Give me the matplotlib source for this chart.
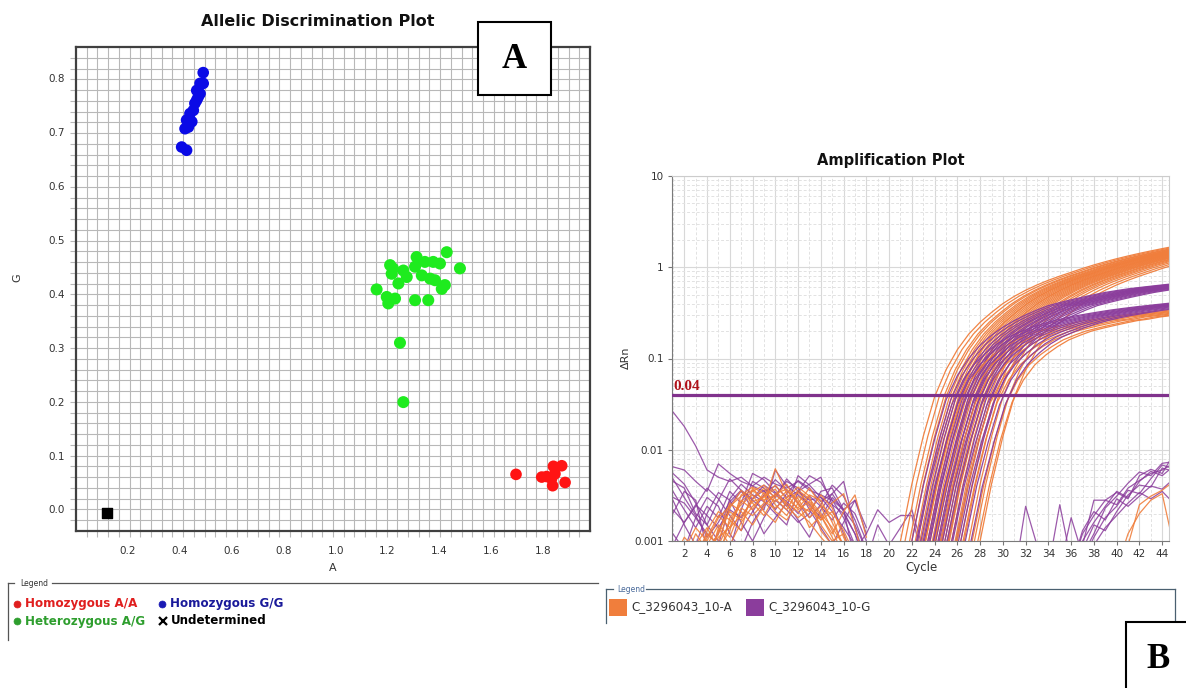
import matplotlib.pyplot as plt
import numpy as np
from matplotlib.patches import Rectangle
from matplotlib.lines import Line2D
from matplotlib.ticker import FixedLocator, NullFormatter

W, H = 1186, 688


def fx(px):
    return px / W


def fy(py):
    return 1 - py / H


# ---- allelic discrimination data (A allele vs G allele signal) ----
aa_x = [1.695, 1.794, 1.813, 1.839, 1.871, 1.832, 1.836, 1.884, 1.845]
aa_y = [0.065, 0.060, 0.061, 0.080, 0.081, 0.057, 0.044, 0.050, 0.066]

gg_x = [0.490, 0.478, 0.465, 0.471, 0.458, 0.452, 0.439, 0.426, 0.433, 0.420,
        0.407, 0.426, 0.490, 0.446, 0.465, 0.478]
gg_y = [0.810, 0.790, 0.777, 0.765, 0.753, 0.740, 0.734, 0.722, 0.709, 0.706,
        0.672, 0.666, 0.790, 0.719, 0.759, 0.771]

ag_x = [1.428, 1.479, 1.158, 1.210, 1.216, 1.203, 1.229, 1.242, 1.261, 1.306,
        1.312, 1.306, 1.357, 1.364, 1.376, 1.409, 1.421, 1.402, 1.274, 1.332,
        1.221, 1.197, 1.344, 1.383, 1.248, 1.261]
ag_y = [0.477, 0.447, 0.408, 0.453, 0.437, 0.382, 0.391, 0.419, 0.443, 0.450,
        0.468, 0.388, 0.388, 0.428, 0.459, 0.409, 0.416, 0.456, 0.431, 0.434,
        0.447, 0.394, 0.459, 0.425, 0.309, 0.199]

und_x = [0.118]
und_y = [-0.006]

# ---- amplification data (delta Rn per cycle) ----
# curve shapes start one cycle before the 0.001 crossing
shape_a_high = [0.0003, 0.001, 0.0042, 0.014, 0.038, 0.075, 0.125, 0.185, 0.25,
                0.32, 0.40, 0.48, 0.56, 0.64, 0.72, 0.80, 0.88, 0.97, 1.06,
                1.15, 1.24, 1.33, 1.42, 1.51, 1.60, 1.69, 1.78]
shape_a_low = [0.0003, 0.001, 0.004, 0.013, 0.033, 0.058, 0.085, 0.11, 0.135,
               0.16, 0.18, 0.20, 0.215, 0.23, 0.245, 0.26, 0.27, 0.285, 0.295,
               0.305, 0.315, 0.325, 0.335, 0.345, 0.355, 0.365, 0.375]
shape_g_high = [0.0003, 0.001, 0.004, 0.013, 0.035, 0.065, 0.10, 0.14, 0.18,
                0.22, 0.26, 0.30, 0.34, 0.38, 0.41, 0.44, 0.47, 0.50, 0.53,
                0.555, 0.58, 0.60, 0.62, 0.64, 0.66, 0.68, 0.70]
shape_g_low = [0.0003, 0.001, 0.004, 0.012, 0.031, 0.058, 0.087, 0.115, 0.145,
               0.172, 0.195, 0.218, 0.24, 0.26, 0.278, 0.295, 0.31, 0.325,
               0.34, 0.353, 0.366, 0.378, 0.39, 0.402, 0.414, 0.426, 0.438]

# cycle at which each well passes 0.001
start_a_high = [21.0, 21.4, 21.8, 22.0, 22.3, 22.5, 22.7, 22.9, 23.1, 23.2,
                23.4, 23.6, 23.8, 24.0, 24.1, 24.3, 24.5, 24.7, 24.9, 25.1,
                25.3, 25.5, 25.8, 26.0, 26.3, 26.6, 27.0, 27.5, 28.0]
start_a_low = [23.2, 24.0, 24.6, 25.2, 25.9, 26.5, 27.3, 27.8]
start_g_high = [22.0, 22.4, 22.8, 23.1, 23.4, 23.6, 23.9, 24.1, 24.4, 24.6,
                24.9, 25.2, 25.5, 25.9, 26.3]
start_g_low = [22.5, 23.0, 23.5, 23.9, 24.3, 24.7, 25.1, 25.6, 26.1, 26.7, 27.2]

# baseline noise, cycles 1-18
noise_g_early = [
    [0.026, 0.018, 0.011, 0.006, 0.005, 0.0045, 0.005, 0.004, 0.0035, 0.004, 0.003, 0.0035, 0.0028, 0.003, 0.0025, 0.002, 0.0012, 0.0006],
    [0.0065, 0.006, 0.0045, 0.0035, 0.007, 0.0055, 0.0045, 0.004, 0.005, 0.0042, 0.0038, 0.0045, 0.0036, 0.0032, 0.0028, 0.0022, 0.0015, 0.0008],
    [0.003, 0.0026, 0.0018, 0.0012, 0.0009, 0.0025, 0.0035, 0.0028, 0.0022, 0.006, 0.004, 0.0032, 0.0025, 0.0018, 0.003, 0.0022, 0.0006, 0.0004],
    [0.0055, 0.0042, 0.0026, 0.0015, 0.001, 0.0008, 0.0022, 0.0045, 0.0038, 0.003, 0.0048, 0.0035, 0.0042, 0.005, 0.0025, 0.0012, 0.0006, 0.0003],
    [0.0028, 0.0015, 0.0009, 0.002, 0.0034, 0.0028, 0.0016, 0.001, 0.0018, 0.0028, 0.0022, 0.0016, 0.002, 0.0035, 0.0038, 0.0022, 0.0028, 0.0014],
    [0.002, 0.0035, 0.0028, 0.0008, 0.0012, 0.0029, 0.0042, 0.0032, 0.0027, 0.002, 0.0015, 0.0035, 0.0052, 0.0044, 0.0028, 0.0018, 0.0009, 0.0005],
    [0.0012, 0.0008, 0.0018, 0.003, 0.0024, 0.0012, 0.0008, 0.0016, 0.0025, 0.0032, 0.0045, 0.0038, 0.0022, 0.0014, 0.0009, 0.0016, 0.0028, 0.0012],
    [0.0045, 0.0038, 0.002, 0.0015, 0.0028, 0.0048, 0.0036, 0.0022, 0.0012, 0.0018, 0.0026, 0.0017, 0.0011, 0.0022, 0.0033, 0.0045, 0.0014, 0.0006],
    [0.0009, 0.0016, 0.0025, 0.0019, 0.0014, 0.0022, 0.0018, 0.0029, 0.0041, 0.0033, 0.0024, 0.0052, 0.0041, 0.003, 0.0021, 0.0014, 0.0009, 0.0005],
    [0.0035, 0.0022, 0.0014, 0.0024, 0.0018, 0.0035, 0.0026, 0.0055, 0.0047, 0.0034, 0.0027, 0.002, 0.0031, 0.0024, 0.0017, 0.0026, 0.002, 0.001],
    [0.0048, 0.003, 0.0019, 0.0011, 0.0016, 0.0027, 0.0036, 0.0029, 0.0036, 0.0022, 0.0033, 0.0046, 0.0038, 0.0027, 0.0033, 0.0021, 0.0012, 0.0005],
    [0.0022, 0.0016, 0.0024, 0.0038, 0.0029, 0.0019, 0.0013, 0.0021, 0.0032, 0.0047, 0.0036, 0.0026, 0.0018, 0.0025, 0.0041, 0.0031, 0.0017, 0.0008],
]
noise_a_early = [
    [0.0005, 0.0008, 0.0014, 0.001, 0.0018, 0.0024, 0.0031, 0.0036, 0.0028, 0.0032, 0.0026, 0.0021, 0.0016, 0.0011, 0.0008, 0.0005, 0.0004, 0.0004],
    [0.0004, 0.0005, 0.0007, 0.0012, 0.0009, 0.0016, 0.0028, 0.0022, 0.0034, 0.0027, 0.0035, 0.0029, 0.0018, 0.0024, 0.0013, 0.0007, 0.0004, 0.0004],
    [0.0006, 0.0011, 0.0008, 0.0006, 0.0013, 0.0021, 0.0017, 0.0029, 0.0038, 0.0025, 0.0019, 0.0031, 0.0024, 0.0015, 0.001, 0.0012, 0.0005, 0.0004],
    [0.0004, 0.0004, 0.0006, 0.0009, 0.0015, 0.0011, 0.0023, 0.0019, 0.0026, 0.0062, 0.0033, 0.0022, 0.0027, 0.0019, 0.0011, 0.0006, 0.0004, 0.0004],
    [0.0005, 0.0004, 0.0005, 0.0008, 0.0006, 0.0018, 0.0025, 0.0032, 0.0021, 0.0016, 0.0028, 0.0034, 0.0026, 0.0017, 0.0021, 0.0013, 0.0007, 0.0004],
    [0.0004, 0.0006, 0.0012, 0.0008, 0.0011, 0.0014, 0.0019, 0.0027, 0.003, 0.0041, 0.0029, 0.0023, 0.0032, 0.0028, 0.0016, 0.0009, 0.0005, 0.0004],
    [0.0004, 0.0004, 0.0005, 0.0007, 0.0012, 0.0026, 0.0021, 0.0015, 0.0024, 0.0033, 0.0037, 0.0027, 0.0014, 0.0019, 0.0012, 0.0021, 0.0032, 0.0011],
    [0.0004, 0.0005, 0.0009, 0.0014, 0.0008, 0.0013, 0.0032, 0.0039, 0.0033, 0.0021, 0.0017, 0.0026, 0.0038, 0.0025, 0.0019, 0.0008, 0.0004, 0.0004],
    [0.0004, 0.0004, 0.0006, 0.0011, 0.0019, 0.0014, 0.0027, 0.0035, 0.0041, 0.0029, 0.0022, 0.0036, 0.0029, 0.002, 0.0014, 0.0009, 0.0005, 0.0004],
    [0.0005, 0.0007, 0.0005, 0.0006, 0.001, 0.0023, 0.0036, 0.0026, 0.0019, 0.0031, 0.0042, 0.0025, 0.0021, 0.0032, 0.0023, 0.0011, 0.0006, 0.0004],
    [0.0004, 0.0005, 0.0008, 0.0005, 0.0014, 0.0009, 0.0016, 0.0024, 0.0031, 0.0037, 0.0024, 0.0018, 0.0023, 0.0017, 0.0026, 0.0033, 0.0014, 0.0005],
    [0.0006, 0.0004, 0.0005, 0.0013, 0.0021, 0.0017, 0.0013, 0.0038, 0.0027, 0.0023, 0.003, 0.0039, 0.0031, 0.0013, 0.0009, 0.0005, 0.0004, 0.0004],
]
# short noisy stretches: (first cycle, values)
noise_g_mid = [
    (17, [0.0008, 0.0012, 0.0022, 0.0016, 0.0019, 0.0019, 0.0006]),
    (18, [0.0006, 0.0015, 0.0009, 0.0014, 0.0022, 0.0008]),
    (31, [0.0004, 0.0024, 0.0009, 0.0005, 0.0025, 0.0006]),
    (35, [0.0005, 0.0018, 0.0007, 0.0004]),
]
# late drift, cycles 36-45
noise_g_late = [
    [0.0005, 0.0012, 0.0019, 0.0028, 0.0025, 0.0038, 0.0046, 0.0055, 0.006, 0.0071],
    [0.0006, 0.001, 0.0016, 0.0024, 0.0035, 0.003, 0.0045, 0.0058, 0.0052, 0.0066],
    [0.0004, 0.0008, 0.0015, 0.0013, 0.0021, 0.0032, 0.0041, 0.0039, 0.0063, 0.0058],
    [0.0005, 0.0009, 0.0028, 0.0028, 0.0034, 0.0029, 0.0052, 0.0061, 0.0055, 0.0089],
    [0.0004, 0.0006, 0.0011, 0.0018, 0.0024, 0.0036, 0.0033, 0.0048, 0.0068, 0.0062],
    [0.0004, 0.0005, 0.0009, 0.0014, 0.0019, 0.0026, 0.0034, 0.0029, 0.0035, 0.0026],
    [0.0005, 0.0013, 0.0021, 0.0017, 0.0029, 0.0024, 0.0031, 0.004, 0.0037, 0.0048],
    [0.0004, 0.0007, 0.0012, 0.0023, 0.0031, 0.0043, 0.0057, 0.0052, 0.0071, 0.0074],
]
noise_a_late = [
    (40, [0.0005, 0.0012, 0.002, 0.0028, 0.0033, 0.0009]),
    (40, [0.0004, 0.0009, 0.0025, 0.0031, 0.0036, 0.0045]),
]

threshold = 0.04

orange = '#F07E3C'
purple = '#8B3D9C'

fig = plt.figure(figsize=(W / 100, H / 100), dpi=100)
fig.patch.set_facecolor('white')

# ================= allelic discrimination =================
ax1 = fig.add_axes([fx(76), fy(531), fx(590) - fx(76), fy(47) - fy(531)])
xlim = (0, 1.98)
ylim = (-0.040, 0.8575)
ax1.set_xlim(*xlim)
ax1.set_ylim(*ylim)

gx = np.linspace(xlim[0], xlim[1], 49)
gy = np.linspace(ylim[0], ylim[1], 46)
for v in gx[1:-1]:
    ax1.axvline(v, color='#b8b8b8', lw=0.8, zorder=0)
for v in gy[1:-1]:
    ax1.axhline(v, color='#b8b8b8', lw=0.8, zorder=0)

ax1.scatter(aa_x, aa_y, s=70, color='#FF1414', edgecolors='none', zorder=3)
ax1.scatter(gg_x, gg_y, s=70, color='#0A0AE6', edgecolors='none', zorder=3)
ax1.scatter(ag_x, ag_y, s=75, color='#1EEB1E', edgecolors='none', zorder=3)
ax1.scatter(und_x, und_y, s=55, marker='s', color='black', zorder=3)

ax1.set_xticks([0.2, 0.4, 0.6, 0.8, 1.0, 1.2, 1.4, 1.6, 1.8])
ax1.set_yticks([0.0, 0.1, 0.2, 0.3, 0.4, 0.5, 0.6, 0.7, 0.8])
ax1.xaxis.set_minor_locator(FixedLocator(gx[1:-1]))
ax1.yaxis.set_minor_locator(FixedLocator(gy[1:-1]))
ax1.tick_params(which='major', length=0, labelsize=7.5, labelcolor='#333333')
ax1.tick_params(axis='x', which='major', pad=11)
ax1.tick_params(axis='y', which='major', pad=8)
ax1.tick_params(which='minor', length=4, color='#b8b8b8', width=0.8)
for s in ax1.spines.values():
    s.set_color('#404040')
    s.set_linewidth(1.6)

fig.text(fx(318), fy(22), 'Allelic Discrimination Plot', ha='center', va='center',
         fontsize=11.5, fontweight='bold', color='#111111')
fig.text(fx(17), fy(278), 'G', ha='center', va='center', fontsize=8,
         rotation=90, color='#333333')
fig.text(fx(333), fy(568), 'A', ha='center', va='center', fontsize=8,
         color='#333333')

# left legend frame
fig.add_artist(Line2D([fx(8), fx(14)], [fy(583), fy(583)], color='#555555', lw=0.9))
fig.add_artist(Line2D([fx(52), fx(598)], [fy(583), fy(583)], color='#555555', lw=0.9))
fig.add_artist(Line2D([fx(8), fx(8)], [fy(583), fy(640)], color='#555555', lw=0.9))
fig.text(fx(20), fy(583), 'Legend', ha='left', va='center', fontsize=5.5, color='#333333')

leg_rows = [
    (17, 604, '#E01E1E', 'Homozygous A/A', '#E01E1E', 'o'),
    (162, 604, '#1A1AB4', 'Homozygous G/G', '#1A1A9A', 'o'),
    (17, 621, '#2E9E2E', 'Heterozygous A/G', '#2E9E2E', 'o'),
    (163, 621, 'black', 'Undetermined', 'black', 'x'),
]
for px, py, mc, label, tc, mk in leg_rows:
    fig.add_artist(Line2D([fx(px)], [fy(py)], marker=mk, ls='none',
                          markersize=5 if mk == 'o' else 6, color=mc,
                          markeredgewidth=1.6 if mk == 'x' else 0.5))
    fig.text(fx(px + 8), fy(py), label, ha='left', va='center', fontsize=8.6,
             fontweight='bold', color=tc)

# ================= amplification =================
ax2 = fig.add_axes([fx(672), fy(541), fx(1169) - fx(672), fy(176) - fy(541)])
ax2.set_yscale('log')
ax2.set_xlim(0.92, 44.6)
ax2.set_ylim(0.001, 10)

ax2.set_xticks(np.arange(2, 45, 2))
ax2.xaxis.set_minor_locator(FixedLocator(np.arange(1, 45, 2)))
ax2.set_yticks([0.001, 0.01, 0.1, 1, 10])
ax2.set_yticklabels(['0.001', '0.01', '0.1', '1', '10'])
ax2.yaxis.set_minor_formatter(NullFormatter())
ax2.grid(which='major', axis='both', color='#d8d8d8', lw=0.8, ls='-')
ax2.grid(which='minor', axis='both', color='#e2e2e2', lw=0.7, ls=(0, (3, 2)))
ax2.set_axisbelow(True)
ax2.tick_params(which='major', length=3, labelsize=7.5, labelcolor='#333333',
                color='#777777', pad=3)
ax2.tick_params(which='minor', length=0)
for side in ['left', 'bottom']:
    ax2.spines[side].set_color('#7a7a7a')
for side in ['top', 'right']:
    ax2.spines[side].set_color('#cccccc')

lw = 0.9
for trace in noise_g_early:
    ax2.plot(np.arange(1, len(trace) + 1), trace, color=purple, lw=lw, alpha=0.85)
for trace in noise_a_early:
    ax2.plot(np.arange(1, len(trace) + 1), trace, color=orange, lw=lw, alpha=0.9)
for c, trace in noise_g_mid:
    ax2.plot(np.arange(c, c + len(trace)), trace, color=purple, lw=lw, alpha=0.85)
for trace in noise_g_late:
    ax2.plot(np.arange(36, 36 + len(trace)), trace, color=purple, lw=lw, alpha=0.85)
for c, trace in noise_a_late:
    ax2.plot(np.arange(c, c + len(trace)), trace, color=orange, lw=lw, alpha=0.9)

for c0 in start_a_high:
    ax2.plot(c0 - 1 + np.arange(len(shape_a_high)), shape_a_high, color=orange, lw=lw, alpha=0.95)
for c0 in start_g_high:
    ax2.plot(c0 - 1 + np.arange(len(shape_g_high)), shape_g_high, color=purple, lw=lw, alpha=0.95)
for c0 in start_a_low:
    ax2.plot(c0 - 1 + np.arange(len(shape_a_low)), shape_a_low, color=orange, lw=lw, alpha=0.95)
for c0 in start_g_low:
    ax2.plot(c0 - 1 + np.arange(len(shape_g_low)), shape_g_low, color=purple, lw=lw, alpha=0.95)

ax2.axhline(threshold, color='#80328C', lw=2.3, zorder=5)
ax2.text(1.0, threshold * 1.05, f'{threshold:g}', ha='left', va='bottom',
         fontsize=11, fontweight='bold', color='#B0121A', family='Liberation Serif',
         zorder=6)

fig.text(fx(891), fy(161), 'Amplification Plot', ha='center', va='center',
         fontsize=10.5, fontweight='bold', color='#111111')
fig.text(fx(626), fy(358), 'ΔRn', ha='center', va='center', fontsize=8,
         rotation=90, color='#333333')
fig.text(fx(922), fy(567), 'Cycle', ha='center', va='center', fontsize=8.5,
         color='#333333')

# right legend frame
fc = '#4a6070'
fig.add_artist(Line2D([fx(606), fx(613)], [fy(589), fy(589)], color=fc, lw=0.9))
fig.add_artist(Line2D([fx(646), fx(1175)], [fy(589), fy(589)], color=fc, lw=0.9))
fig.add_artist(Line2D([fx(606), fx(606)], [fy(589), fy(623)], color=fc, lw=0.9))
fig.add_artist(Line2D([fx(1175), fx(1175)], [fy(589), fy(623)], color=fc, lw=0.9))
fig.text(fx(617), fy(589), 'Legend', ha='left', va='center', fontsize=5.5, color='#4a6a9a')
for px, col, label in [(609, orange, 'C_3296043_10-A'), (746, purple, 'C_3296043_10-G')]:
    fig.add_artist(Rectangle((fx(px), fy(616)), fx(18), fy(599) - fy(616),
                             transform=fig.transFigure, facecolor=col, edgecolor='none'))
    fig.text(fx(px + 22), fy(607), label, ha='left', va='center', fontsize=8.6,
             color='#333333')

# panel letters
for x0, y0, x1, y1, letter, cx, cy in [(478, 22, 551, 95, 'A', 514.5, 60),
                                      (1126, 622, 1192, 694, 'B', 1158, 660)]:
    fig.add_artist(Rectangle((fx(x0), fy(y1)), fx(x1 - x0), fy(y0) - fy(y1),
                             transform=fig.transFigure, facecolor='white',
                             edgecolor='black', lw=1.5, zorder=10))
    fig.text(fx(cx), fy(cy), letter, ha='center', va='center', fontsize=25,
             fontweight='bold', family='Liberation Serif', color='black', zorder=11)

fig.savefig('out.png', dpi=100, facecolor='white')
